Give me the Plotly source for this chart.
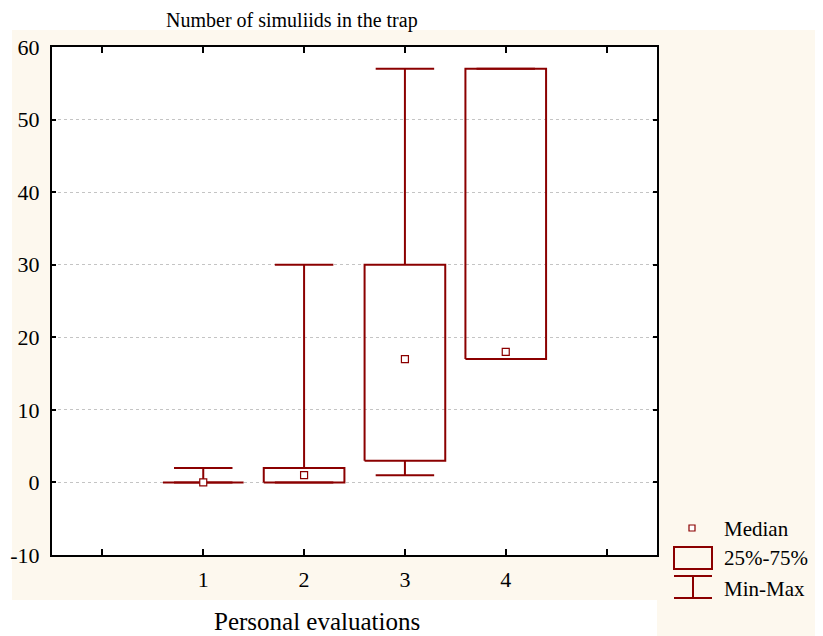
import plotly.graph_objects as go

# ---- data ----
categories = [1, 2, 3, 4]
mins = [0, 0, 1, 17]
q1s = [0, 0, 3, 17]
medians = [0, 1, 17, 18]
q3s = [0, 2, 30, 57]
maxs = [2, 30, 57, 57]
y_ticks = [-10, 0, 10, 20, 30, 40, 50, 60]
y_tick_text = ["-10", "0", "10", "20", "30", "40", "50", "60"]
x_tick_vals = [0, 1, 2, 3, 4, 5]
x_tick_text = ["", "1", "2", "3", "4", ""]

RED = "#8B0000"
CREAM = "#FDF8EE"
FONT = "Liberation Serif"
BOX_HW = 0.4
CAP_HW = 0.29

# page offset (default body margin) and plot area in window pixels
OFF = 8
WIN_W, WIN_H = 823, 636
L, R, T, B = 52, 657, 47, 555
W, H = WIN_W - OFF, WIN_H - OFF


def px(x):
    return (x - L) / (R - L)


def py(y):
    return (B - y) / (B - T)


box_x, box_y = [], []
wh_x, wh_y = [], []
for c, mn, a, m, b, mx in zip(categories, mins, q1s, medians, q3s, maxs):
    box_x += [c - BOX_HW, c + BOX_HW, c + BOX_HW, c - BOX_HW, c - BOX_HW, None]
    box_y += [a, a, b, b, a, None]
    # upper whisker + cap
    wh_x += [c, c, None, c - CAP_HW, c + CAP_HW, None]
    wh_y += [b, mx, None, mx, mx, None]
    # lower whisker + cap
    wh_x += [c, c, None, c - CAP_HW, c + CAP_HW, None]
    wh_y += [a, mn, None, mn, mn, None]

fig = go.Figure()
fig.add_trace(go.Scatter(x=wh_x, y=wh_y, mode="lines",
                         line=dict(color=RED, width=2), showlegend=False,
                         hoverinfo="skip"))
fig.add_trace(go.Scatter(x=box_x, y=box_y, mode="lines",
                         line=dict(color=RED, width=2), showlegend=False,
                         hoverinfo="skip"))
fig.add_trace(go.Scatter(x=categories, y=medians, mode="markers",
                         marker=dict(symbol="square", size=7, color="white",
                                     line=dict(color=RED, width=1.2)),
                         showlegend=False))

shapes = [
    # cream backgrounds
    dict(type="rect", xref="paper", yref="paper", x0=px(12), x1=px(WIN_W), y0=py(600), y1=py(30),
         fillcolor=CREAM, line=dict(width=0), layer="below"),
    dict(type="rect", xref="paper", yref="paper", x0=px(657), x1=px(WIN_W), y0=py(WIN_H), y1=py(590),
         fillcolor=CREAM, line=dict(width=0), layer="below"),
    # white plot area
    dict(type="rect", xref="paper", yref="paper", x0=0, x1=1, y0=0, y1=1,
         fillcolor="white", line=dict(width=0), layer="below"),
    # legend symbols
    dict(type="rect", xref="paper", yref="paper", x0=px(689), x1=px(695), y0=py(531), y1=py(525),
         fillcolor="white", line=dict(color=RED, width=1.2)),
    dict(type="rect", xref="paper", yref="paper", x0=px(674), x1=px(712), y0=py(569), y1=py(547),
         fillcolor="rgba(0,0,0,0)", line=dict(color=RED, width=2)),
    dict(type="line", xref="paper", yref="paper", x0=px(674), x1=px(712), y0=py(576), y1=py(576),
         line=dict(color=RED, width=2)),
    dict(type="line", xref="paper", yref="paper", x0=px(693), x1=px(693), y0=py(576), y1=py(598),
         line=dict(color=RED, width=2)),
    dict(type="line", xref="paper", yref="paper", x0=px(674), x1=px(712), y0=py(598), y1=py(598),
         line=dict(color=RED, width=2)),
]

annotations = [
    dict(text="Number of simuliids in the trap", xref="paper", yref="paper",
         x=px(292), y=py(OFF), showarrow=False, xanchor="center", yanchor="top",
         borderpad=0,
         font=dict(family=FONT, size=20, color="black")),
    dict(text="Personal evaluations", xref="paper", yref="paper",
         x=px(317), y=py(621), showarrow=False, xanchor="center", yanchor="middle",
         font=dict(family=FONT, size=25, color="black")),
    dict(text="Median", xref="paper", yref="paper", x=px(722), y=py(529),
         showarrow=False, xanchor="left", yanchor="middle",
         font=dict(family=FONT, size=21, color="black")),
    dict(text="25%-75%", xref="paper", yref="paper", x=px(722), y=py(558),
         showarrow=False, xanchor="left", yanchor="middle",
         font=dict(family=FONT, size=21, color="black")),
    dict(text="Min-Max", xref="paper", yref="paper", x=px(722), y=py(589),
         showarrow=False, xanchor="left", yanchor="middle",
         font=dict(family=FONT, size=21, color="black")),
]

fig.update_layout(
    width=W, height=H,
    margin=dict(l=L - OFF, r=W - (R - OFF), t=T - OFF, b=H - (B - OFF), pad=0,
                autoexpand=False),
    paper_bgcolor="white", plot_bgcolor="white",
    shapes=shapes, annotations=annotations,
    showlegend=False,
    font=dict(family=FONT, color="black"),
)
fig.update_xaxes(range=[-0.5, 5.5], tickvals=x_tick_vals, ticktext=x_tick_text,
                 ticks="inside", ticklen=6, tickwidth=1.5, tickcolor="black",
                 showline=True, linecolor="black", linewidth=2, mirror="ticks",
                 showgrid=False, zeroline=False, automargin=False,
                 tickfont=dict(family=FONT, size=22, color="black"),
                 ticklabelstandoff=4)
fig.update_yaxes(range=[-10, 60], tickvals=y_ticks, ticktext=y_tick_text,
                 ticks="inside", ticklen=4, tickwidth=1.5, tickcolor="black",
                 showline=True, linecolor="black", linewidth=2, mirror="ticks",
                 showgrid=True, gridcolor="#c4c4c4", griddash="dot", gridwidth=1,
                 zeroline=False, automargin=False,
                 tickfont=dict(family=FONT, size=22, color="black"),
                 ticklabelstandoff=6)

fig.write_html("out.html")
